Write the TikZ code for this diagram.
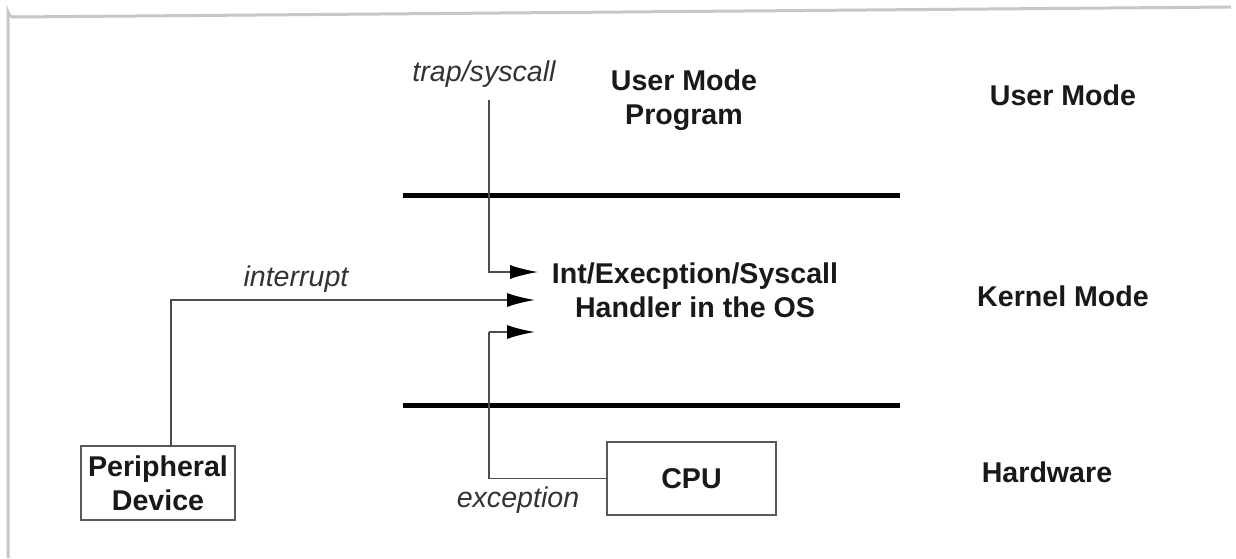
\documentclass[tikz,border=0pt]{standalone}
\usepackage{fontspec}
\setmainfont{Liberation Sans}
\usetikzlibrary{arrows.meta}
\begin{document}
\begin{tikzpicture}[x=0.5pt,y=-0.5pt,
  txt/.style={font=\fontsize{14.3}{17}\selectfont\bfseries, text=black!90, align=center, inner sep=0pt},
  lbl/.style={font=\fontsize{14.3}{17}\selectfont\itshape, text=black!80, inner sep=0pt},
  box/.style={draw=black!65, line width=1.2pt, inner sep=0pt, align=center,
              font=\fontsize{14.3}{17}\selectfont\bfseries, text=black!90},
  modeline/.style={line width=2.5pt, black},
  conn/.style={draw=black!70, line width=0.9pt, -{Latex[length=14pt,width=7pt,black]}},
  wire/.style={draw=black!70, line width=0.9pt}]
\useasboundingbox (0,0) rectangle (1236,558);
\fill[white] (0,0) rectangle (1236,558);
% card edge
\draw[black!22, line width=1.5pt] (8,558) -- (8,12) arc (180:90:5) -- (1231,7);

% mode boundaries
\coordinate (l1a) at (403,195); \coordinate (l1b) at (900,195);
\coordinate (l2a) at (403,405); \coordinate (l2b) at (900,405);
\draw[modeline] (l1a) -- (l1b);
\draw[modeline] (l2a) -- (l2b);

% mode names
\node[txt] (um) at (1063,95) {User Mode};
\node[txt] (km) at (1063,296) {Kernel Mode};
\node[txt] (hw) at (1047,472) {Hardware};

% main blocks
\node[txt] (prog) at (684,100) {User Mode\\Program};
\node[txt] (handler) at (695,290) {Int/Execption/Syscall\\Handler in the OS};
\node[box, minimum width=77pt, minimum height=37pt] (per) at (158,483) {Peripheral\\Device};
\node[box, minimum width=84.5pt, minimum height=36.5pt] (cpu) at (691.5,478.5) {CPU};

% labels
\node[lbl] (trap) at (484,74) {trap/syscall};
\node[lbl] (intr) at (296,279) {interrupt};
\node[lbl] (exc) at (518,500) {exception};

% arrow ends at the handler
\coordinate (tIn) at (538,272);
\coordinate (iIn) at (535,300);
\coordinate (eIn) at (535,332);
\coordinate (tStart) at (489,100);
\coordinate (pTop) at (171,446.5);
\coordinate (eBend) at (489,332);

% connectors
\draw[conn] (tStart) |- (tIn);
\draw[conn] (pTop) |- (iIn);
\draw[wire] (cpu.west) -| (eBend);
\draw[conn] (eBend) -- (eIn);
\end{tikzpicture}
\end{document}
